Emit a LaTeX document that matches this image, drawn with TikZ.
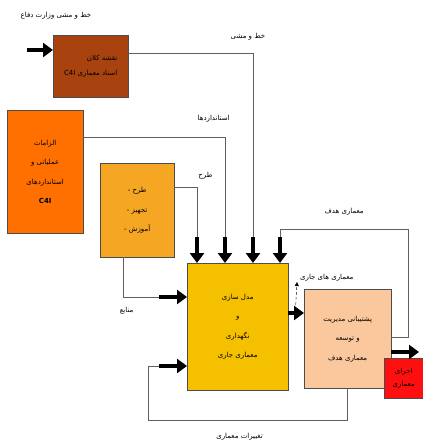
\documentclass[tikz,border=0pt]{standalone}
\usepackage{fontspec}
\newfontfamily\arabicfont[Script=Arabic]{DejaVu Sans}
\TeXXeTstate=1
\usetikzlibrary{arrows.meta}

\newcommand{\fa}[1]{{\arabicfont\beginR #1\endR}}

\definecolor{policybrown}{HTML}{A8420E}
\definecolor{reqorange}{HTML}{FF7000}
\definecolor{planorange}{HTML}{F5A623}
\definecolor{modelyellow}{HTML}{F5C000}
\definecolor{targetpeach}{HTML}{FAC89C}
\definecolor{outred}{HTML}{FF1010}

\begin{document}
\begin{tikzpicture}[x=1pt,y=-1pt,
                    box/.style={draw=gray!60!black,anchor=north west,align=center,
                                inner sep=2pt,font=\fontsize{7}{8.5}\selectfont},
                    tag/.style={font=\fontsize{7}{8.5}\selectfont,inner sep=1pt},
                    wire/.style={draw=gray!75!black,line width=0.8pt},
                    fat/.style={line width=3.5pt,-{Triangle[length=10pt,width=14pt]}}]

  \useasboundingbox (0,0) rectangle (423,442);

  \node[tag]  (T) at (56,16) {\fa{خط و مشی وزارت دفاع}};

  \node[box,fill=policybrown,minimum width=75pt,minimum height=62pt,align=right]
              (A) at (53,35)   {\fa{نقشه کلان}\\[6pt]\fa{اسناد معماری \beginL C4I\endL}};
  \node[box,fill=reqorange,minimum width=76pt,minimum height=123pt]
              (B) at (7,110)   {\fa{الزامات}\\[11pt]\fa{عملیاتی و}\\[11pt]\fa{استانداردهای}\\[11pt]{\arabicfont\bfseries C4I}};
  \node[box,fill=planorange,minimum width=74pt,minimum height=94pt]
              (C) at (100,163) {\fa{طرح -}\\[11pt]\fa{تجهیز -}\\[11pt]\fa{آموزش -}};
  \node[box,fill=modelyellow,minimum width=101pt,minimum height=127pt]
              (D) at (187,263) {\fa{مدل سازی}\\[11pt]\fa{و}\\[11pt]\fa{نگهداری}\\[11pt]\fa{معماری جاری}};
  \node[box,fill=targetpeach,minimum width=87pt,minimum height=99pt]
              (E) at (304,289) {\fa{پشتیبانی مدیریت}\\[11pt]\fa{و توسعه}\\[11pt]\fa{معماری هدف}};
  \node[box,fill=outred,minimum width=39pt,minimum height=40pt]
              (F) at (384,358) {\fa{اجرای}\\[4pt]\fa{معماری}};

  % entry points of the thick arrows
  \coordinate (in)  at (27,50);
  \coordinate (d1)  at ([xshift=10pt,yshift=26pt]D.north west);
  \coordinate (d2)  at ([xshift=38pt,yshift=26pt]D.north west);
  \coordinate (d3)  at ([xshift=66pt,yshift=26pt]D.north west);
  \coordinate (d4)  at ([xshift=93pt,yshift=26pt]D.north west);
  \coordinate (l1)  at ([xshift=-28pt,yshift=-34pt]D.north west);
  \coordinate (l2)  at ([xshift=-28pt,yshift=-103pt]D.north west);
  \coordinate (cur) at (297,282);
  \coordinate (out) at (419,352);

  \draw[wire] ([yshift=-18pt]A.north east) -| (d3)
        node[tag,pos=0.48,above=11pt] (t1) {\fa{خط و مشی}};
  \draw[wire] ([yshift=-27pt]B.north east) -| (d2)
        node[tag,pos=0.46,above=13pt] (t2) {\fa{استانداردها}};
  \draw[wire] ([yshift=-24pt]C.north east) -| (d1)
        node[tag,pos=0.5,above right,yshift=6pt] (t3) {\fa{طرح}};
  \draw[wire] ([yshift=-48pt]E.north east) -- ++(17,0) -- ++(0,-108)
        -| node[tag,pos=0.25,above=12pt] (t4) {\fa{معماری هدف}} (d4);
  \draw[wire] ([xshift=23pt]C.south west) |- (l1)
        node[tag,pos=0.55,below=9pt] (t5) {\fa{منابع}};
  \draw[wire] ([xshift=43pt]E.south west) -- ++(0,32)
        -| node[tag,pos=0.27,below=11pt] (t6) {\fa{تغییرات معماری}} ([xshift=-11pt]l2) -- (l2);
  \draw[densely dashed,-{Triangle[length=4pt,width=4pt]}]
        ([xshift=7pt,yshift=-47pt]D.north east) -- (cur)
        node[tag,anchor=south west,xshift=2pt] (t7) {\fa{معماری های جاری}};

  \draw[fat] (in) -- (in -| A.west);
  \foreach \c in {d1,d2,d3,d4}
    \draw[fat] (\c) -- (\c |- D.north);
  \draw[fat] (l1) -- (l1 -| D.west);
  \draw[fat] (l2) -- (l2 -| D.west);
  \draw[fat] ([yshift=-50pt]D.north east) -- ([yshift=-50pt]D.north east -| E.west);
  \draw[fat] ([yshift=-63pt]E.north east) -- (out);
\end{tikzpicture}
\end{document}
